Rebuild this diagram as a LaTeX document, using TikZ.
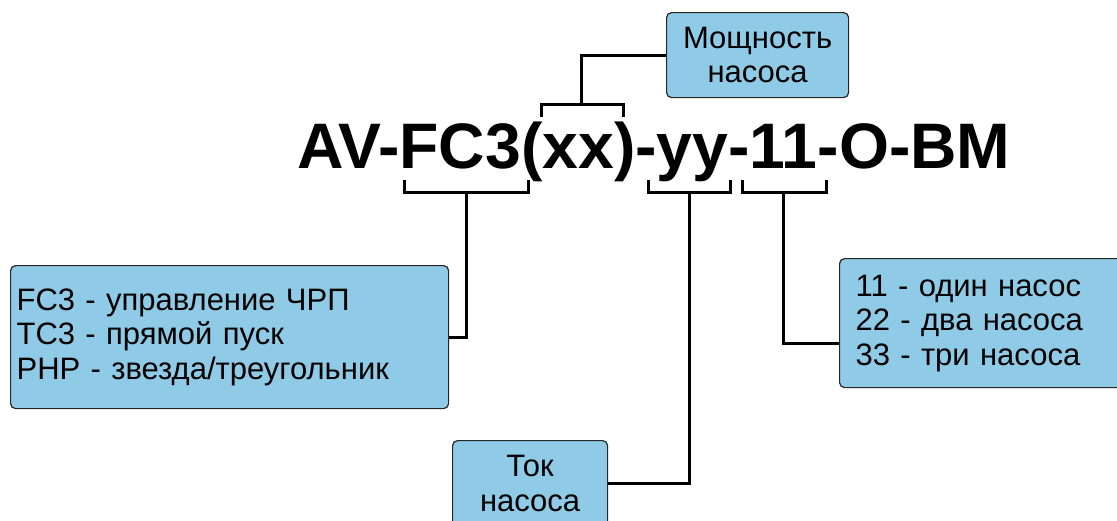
\documentclass[tikz,border=0pt]{standalone}
\usepackage{fontspec}
\setmainfont{Liberation Sans}
\usetikzlibrary{positioning}
\definecolor{boxblue}{RGB}{143,203,230}
\tikzset{
	infobox/.style={draw=black!85,fill=boxblue,rounded corners=5pt,line width=1.2pt,inner sep=0pt},
	link/.style={line width=3pt,line cap=butt,line join=miter}
}
\begin{document}
\begin{tikzpicture}[x=1pt,y=-1pt,font=\fontsize{31}{34.5}\selectfont]
	\useasboundingbox (0,0) rectangle (1117,520);
	\clip (0,0) rectangle (1117,520);
	\node[anchor=base west,inner sep=0pt,font=\fontsize{64.3}{70}\selectfont\bfseries] (code) at (297,168) {AV-FC3(xx)-yy-11-O-BM};
	\node[infobox,anchor=north west,minimum width=182,minimum height=85,align=center] (power) at (666,12) {Мощность\\насоса};
	\node[infobox,anchor=north west,minimum width=438,minimum height=143,text width=426,align=left] (kind) at (10,265) {FC3 - управление ЧРП\\TC3 - прямой пуск\\PHP - звезда/треугольник};
	\node[infobox,anchor=north west,minimum width=155,minimum height=86,align=center] (current) at (452,440) {Ток\\насоса};
	\node[infobox,anchor=north west,minimum width=300,minimum height=129,text width=268,align=left] (pumps) at (839,258) {11 - один насос\\22 - два насоса\\33 - три насоса};
	% brackets
	\coordinate (xx) at (581,104);
	\coordinate (fc) at (466,192);
	\coordinate (yy) at (689,192);
	\coordinate (nn) at (783,192);
	\draw[link] (541,117) -- (541,104) -- (623,104) -- (623,117);
	\draw[link] (404,180) -- (404,192) -- (528,192) -- (528,180);
	\draw[link] (648,180) -- (648,192) -- (730,192) -- (730,180);
	\draw[link] (742,180) -- (742,192) -- (826,192) -- (826,180);
	% connectors
	\draw[link] (xx) |- (power.west);
	\draw[link] (fc) |- (kind.east);
	\draw[link] (yy) |- (current.east);
	\draw[link] (nn) |- ([yshift=-20pt]pumps.west);
\end{tikzpicture}
\end{document}
